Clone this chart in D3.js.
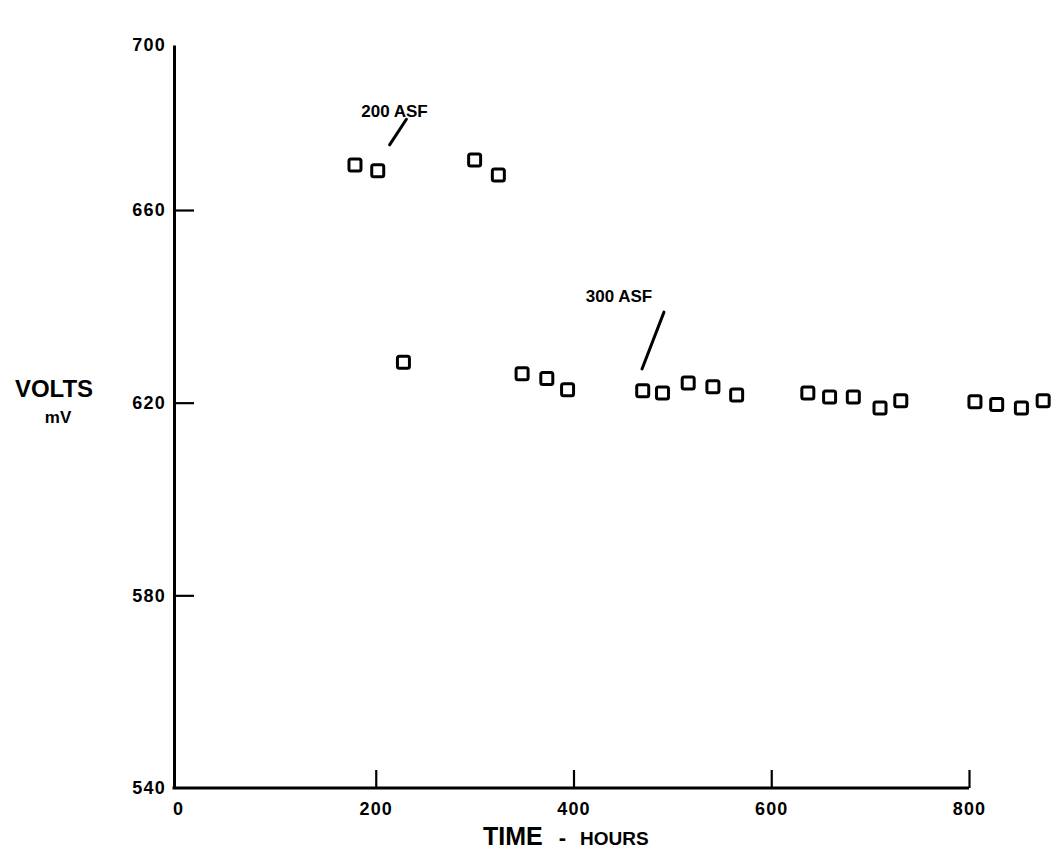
<!DOCTYPE html>
<html>
<head>
<meta charset="utf-8">
<script src="https://cdn.jsdelivr.net/npm/d3@7"></script>
<style>
  html, body { margin: 0; padding: 0; background: #fff; }
  svg { display: block; }
  text { font-family: "Liberation Sans", Arial, sans-serif; font-weight: bold; fill: #000; }
</style>
</head>
<body>
<svg id="chart" width="1057" height="858"></svg>
<script>
// ---- data ----
const hours = [179, 202, 228, 300, 324, 348, 373, 394, 470, 490, 516, 541, 565, 637, 659, 683, 710, 731, 806, 828, 853, 875];
const volts = [670.9, 669.5, 628.4, 672.1, 668.5, 626.0, 625.0, 622.7, 622.5, 622.0, 624.1, 623.3, 621.6, 622.0, 621.2, 621.2, 618.9, 620.4, 620.2, 619.6, 618.9, 620.4];
const xTicks = [0, 200, 400, 600, 800];
const yTicks = [540, 580, 620, 660, 700];
const noteLabels = ["200 ASF", "300 ASF"];
const noteTextX = [219, 446];
const noteTextY = [682.5, 641.0];
const noteLineX = [[231, 214], [491.5, 469.3]];
const noteLineY = [[682.0, 675.8], [638.8, 627.0]];

// ---- scales ----
const svg = d3.select("#chart");
const x = d3.scaleLinear().domain([0, 800]).range([178, 969]);
const y = d3.scaleLinear().domain([540, 660, 700]).range([788, 210, 45]);
const yAxisX = 174;

// y axis
const yAxis = svg.append("g")
  .attr("transform", `translate(${yAxisX},0)`)
  .call(d3.axisLeft(y).tickValues(yTicks).tickSize(-20).tickSizeOuter(0).tickPadding(8).tickFormat(d3.format("d")));
yAxis.select(".domain").attr("stroke", "#000").attr("stroke-width", 3);
yAxis.selectAll(".tick line").attr("stroke", "#000").attr("stroke-width", 2.2)
  .attr("display", d => (d === 540 || d === 700) ? "none" : null);
yAxis.selectAll(".tick text").attr("font-size", 18).attr("letter-spacing", 1.2)
  .attr("font-family", "'Liberation Sans', Arial, sans-serif").attr("font-weight", "bold");

// x axis
const xAxis = svg.append("g")
  .attr("transform", `translate(0,${y(540)})`)
  .call(d3.axisBottom(x).tickValues(xTicks).tickSize(-18).tickSizeOuter(0).tickPadding(14).tickFormat(d3.format("d")));
xAxis.select(".domain").attr("stroke", "#000").attr("stroke-width", 3)
  .attr("d", `M${yAxisX - 1.5},0H${x(800)}`);
xAxis.selectAll(".tick line").attr("stroke", "#000").attr("stroke-width", 2.2)
  .attr("display", d => d === 0 ? "none" : null);
xAxis.selectAll(".tick text").attr("font-size", 18).attr("letter-spacing", 1.2)
  .attr("font-family", "'Liberation Sans', Arial, sans-serif").attr("font-weight", "bold");

// axis titles
svg.append("text").attr("x", 54).attr("y", 397).attr("text-anchor", "middle")
  .attr("font-size", 24).text("VOLTS");
svg.append("text").attr("x", 58).attr("y", 423).attr("text-anchor", "middle")
  .attr("font-size", 17).text("mV");
const xt = svg.append("text").attr("x", 483).attr("y", 845).attr("text-anchor", "start");
xt.append("tspan").attr("font-size", 25).text("TIME");
xt.append("tspan").attr("font-size", 22).attr("dx", 16).text("-");
xt.append("tspan").attr("font-size", 19).attr("dx", 14).text("HOURS");

// markers
const s = 12;
svg.append("g").selectAll("rect").data(hours).join("rect")
  .attr("x", (d) => x(d) - s / 2)
  .attr("y", (d, i) => y(volts[i]) - s / 2)
  .attr("width", s).attr("height", s).attr("rx", 2)
  .attr("fill", "none").attr("stroke", "#000").attr("stroke-width", 3);

// annotations
noteLabels.forEach((lab, i) => {
  svg.append("text").attr("x", x(noteTextX[i])).attr("y", y(noteTextY[i]))
    .attr("text-anchor", "middle").attr("font-size", 17).text(lab);
  svg.append("line")
    .attr("x1", x(noteLineX[i][0])).attr("y1", y(noteLineY[i][0]))
    .attr("x2", x(noteLineX[i][1])).attr("y2", y(noteLineY[i][1]))
    .attr("stroke", "#000").attr("stroke-width", 3).attr("stroke-linecap", "round");
});
</script>
</body>
</html>
